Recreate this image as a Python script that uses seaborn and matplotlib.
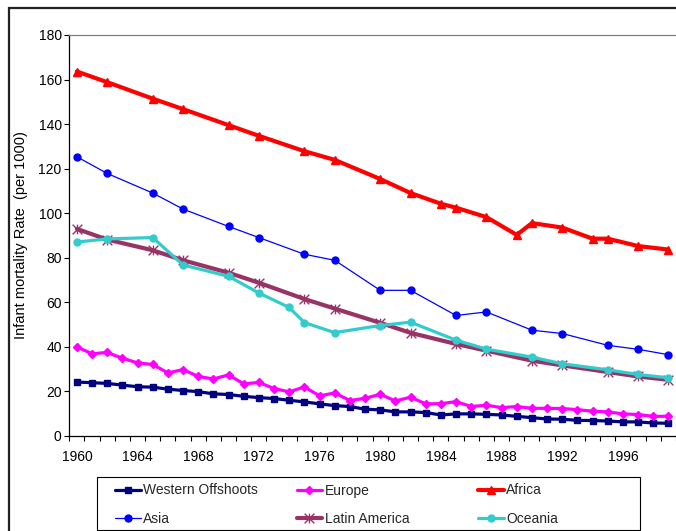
import matplotlib
matplotlib.use("Agg")
import matplotlib.pyplot as plt
import seaborn as sns
from matplotlib.patches import Rectangle
from matplotlib.path import Path

years_all = list(range(1960, 2000))
western_offshoots = [24.1, 23.8, 23.5, 22.7, 22.0, 21.8, 20.9, 20.3, 19.8, 18.8,
                     18.5, 17.7, 17.1, 16.7, 15.9, 15.2, 14.3, 13.5, 13.1, 11.9,
                     11.6, 10.7, 10.7, 10.4, 9.3, 9.8, 9.8, 9.6, 9.3, 8.7,
                     8.1, 7.5, 7.4, 6.9, 6.8, 6.6, 6.2, 6.2, 5.7, 5.6]
europe = [39.9, 36.8, 37.4, 34.8, 32.7, 32.0, 28.2, 29.7, 26.6, 25.5,
          27.3, 23.3, 23.9, 21.2, 19.7, 21.9, 17.9, 19.2, 15.8, 16.8,
          18.6, 15.6, 17.3, 14.3, 14.4, 15.3, 13.1, 13.7, 12.6, 13.1,
          12.3, 12.3, 12.2, 11.7, 11.0, 10.7, 9.8, 9.5, 8.7, 8.7]

years_africa = [1960, 1962, 1965, 1967, 1970, 1972, 1975, 1977, 1980, 1982,
                1984, 1985, 1987, 1989, 1990, 1992, 1994, 1995, 1997, 1999]
africa = [163.6, 158.8, 151.4, 146.7, 139.5, 134.7, 127.8, 123.9, 115.3, 109.0,
          104.2, 102.4, 98.2, 90.2, 95.5, 93.5, 88.5, 88.5, 85.2, 83.6]

years_asia = [1960, 1962, 1965, 1967, 1970, 1972, 1975, 1977, 1980, 1982,
              1985, 1987, 1990, 1992, 1995, 1997, 1999]
asia = [125.3, 117.8, 109.0, 101.8, 94.0, 89.0, 81.5, 78.8, 65.3, 65.3,
        54.0, 55.6, 47.4, 45.9, 40.6, 38.8, 36.4]
latin_america = [92.9, 88.1, 83.3, 78.8, 73.2, 68.7, 61.4, 57.1, 50.7, 46.2,
                 41.2, 38.2, 33.7, 31.6, 28.6, 26.6, 25.1]

years_oceania = [1960, 1962, 1965, 1967, 1970, 1972, 1974, 1975, 1977, 1980,
                 1982, 1985, 1987, 1990, 1992, 1995, 1997, 1999]
oceania = [87.0, 88.4, 89.0, 76.7, 71.6, 64.1, 57.6, 50.8, 46.3, 49.5,
           51.0, 42.9, 38.9, 35.3, 32.3, 29.6, 27.5, 26.0]

year_labels = [str(y) for y in range(1960, 2000, 4)]

sns.set_theme(style="white")
plt.rcParams["font.family"] = ["Liberation Sans", "DejaVu Sans"]
plt.rcParams["font.size"] = 10

# Excel style star: an X with a vertical bar through it
star = Path([(0, -1), (0, 1), (-1, -1), (1, 1), (-1, 1), (1, -1)],
            [Path.MOVETO, Path.LINETO, Path.MOVETO, Path.LINETO, Path.MOVETO, Path.LINETO])

W, H = 676, 531
fig = plt.figure(figsize=(W / 100, H / 100), dpi=100)
ax = fig.add_axes([69.3 / W, 1 - 435.7 / H, 1 - 69.3 / W, (435.7 - 35) / H])

series = [
    ("Western Offshoots", years_all, western_offshoots,
     dict(color="#000080", marker="s", markersize=4.2, linewidth=2.3)),
    ("Europe", years_all, europe,
     dict(color="#FF00FF", marker="D", markersize=3.8, linewidth=2.3)),
    ("Africa", years_africa, africa,
     dict(color="#FF0000", marker="^", markersize=5.5, linewidth=3.0)),
    ("Asia", years_asia, asia,
     dict(color="#0000FF", marker="o", markersize=5.0, linewidth=0.9)),
    ("Latin America", years_asia, latin_america,
     dict(color="#993366", marker=star, markersize=7, linewidth=3.0)),
    ("Oceania", years_oceania, oceania,
     dict(color="#33CCCC", marker="o", markersize=5.0, linewidth=2.3)),
]

handles = {}
for name, xs, ys, style in series:
    sns.lineplot(x=xs, y=ys, ax=ax, estimator=None, label=name,
                 markeredgecolor=style["color"], markerfacecolor=style["color"],
                 markeredgewidth=1.0, **style)
    handles[name] = ax.get_lines()[-1]
ax.get_legend().remove()

ax.set_ylim(0, 180)
ax.set_yticks(range(0, 181, 20))
ax.set_xlim(1959.5, 1959.5 + (W - 69.3) / 15.2)
ax.set_xticks(range(1960, 2000, 4), year_labels)
ax.set_xticks([y - 0.5 for y in range(1960, 2001)], minor=True)
ax.tick_params(axis="x", which="major", length=0, pad=10.5, labelsize=10, colors="black")
ax.tick_params(axis="x", which="minor", length=3.5, width=0.8, direction="out",
               bottom=True, color="black")
ax.tick_params(axis="y", length=3.5, width=0.8, direction="out", left=True,
               pad=2, labelsize=10, colors="black")

for side in ("left", "bottom"):
    ax.spines[side].set_color("black")
    ax.spines[side].set_linewidth(0.9)
ax.spines["top"].set_color("#808080")
ax.spines["top"].set_linewidth(0.9)
ax.spines["right"].set_visible(False)

ax.set_ylabel("Infant mortality Rate  (per 1000)", fontsize=10.5, color="black")
ax.yaxis.set_label_coords((28.5 - 69.3) / (W - 69.3), 0.5)

# legend frame and three columns
fig.add_artist(Rectangle((97 / W, 1 - 530 / H), (640 - 97) / W, (530 - 476.5) / H,
                         transform=fig.transFigure, fill=False,
                         edgecolor="black", linewidth=0.8))
columns = [["Western Offshoots", "Asia"], ["Europe", "Latin America"],
           ["Africa", "Oceania"]]
for i, names in enumerate(columns):
    x0 = 115 + i * 181.5
    fig.legend([handles[n] for n in names], names, loc="upper left",
               bbox_to_anchor=(x0 / W, 1 - 483.5 / H), frameon=False,
               handlelength=1.87, handletextpad=0.15, labelspacing=1.05,
               borderpad=0, borderaxespad=0, fontsize=10)

# outer chart border
fig.add_artist(Rectangle((8.5 / W, -0.1), 1.2, 1 - 7.5 / H + 0.1,
                         transform=fig.transFigure, fill=False,
                         edgecolor="#222222", linewidth=1.6))

fig.savefig("out.png", dpi=100)
